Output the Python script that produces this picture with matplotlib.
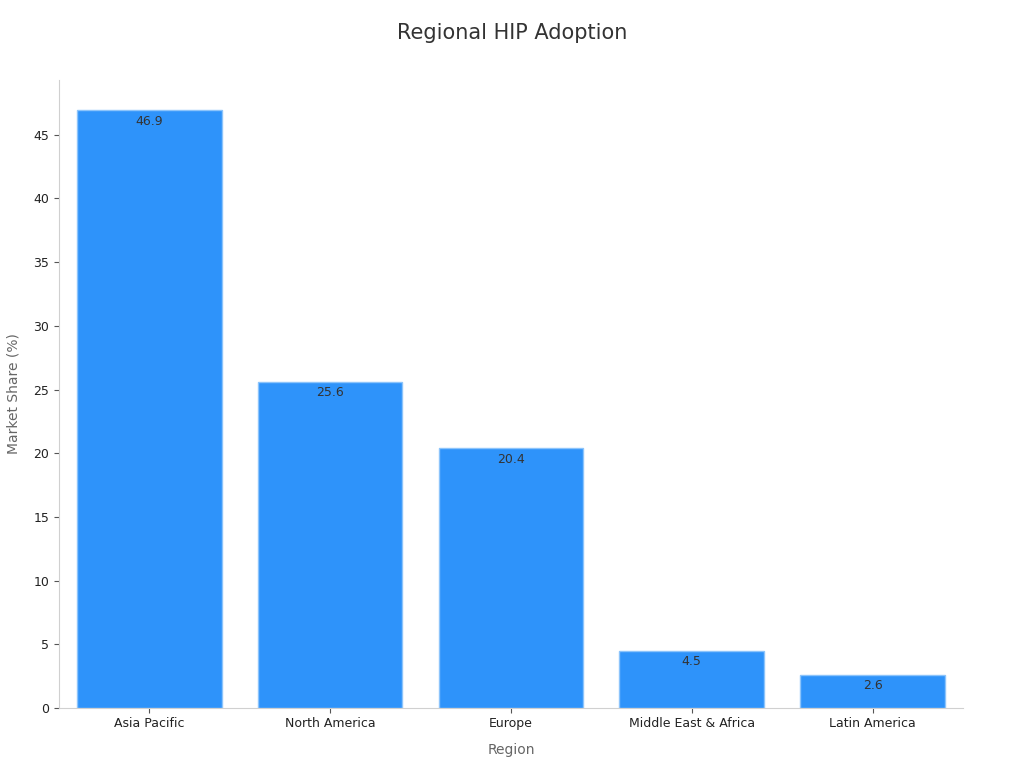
import matplotlib

matplotlib.use("Agg")
import matplotlib.pyplot as plt  # noqa: E402

regions = ["Asia Pacific", "North America", "Europe", "Middle East & Africa", "Latin America"]
shares = [46.9, 25.6, 20.4, 4.5, 2.6]

BAR_COLOR = "#2E93FA"
TEXT_DARK = "#333333"
TEXT_GRAY = "#666666"

fig = plt.figure(figsize=(10.24, 7.68), dpi=100)
ax = fig.add_axes([0.0576, 0.078, 0.8828, 0.818])

xs = list(range(len(regions)))
bars = ax.bar(xs, shares, width=0.8, color=BAR_COLOR, edgecolor="#8cc4fb", linewidth=1.0)
for bar, v in zip(bars, shares):
    ax.text(bar.get_x() + bar.get_width() / 2, v - 0.35, f"{v}",
            ha="center", va="top", fontsize=9, color=TEXT_DARK)

ax.set_xlim(-0.5, 4.5)
ax.set_ylim(0, 49.3)
ax.set_xticks(xs)
ax.set_xticklabels(regions, fontsize=9, color="#222222")
ax.set_yticks(range(0, 50, 5))
ax.tick_params(axis="y", labelsize=9, labelcolor="#222222", color="#555555", length=3.5)
ax.tick_params(axis="x", color="#555555", length=3.5, pad=3)

for side in ("top", "right"):
    ax.spines[side].set_visible(False)
for side in ("left", "bottom"):
    ax.spines[side].set_color("#d0d0d0")
    ax.spines[side].set_linewidth(0.8)

ax.set_xlabel("Region", fontsize=10, color=TEXT_GRAY, labelpad=9)
ax.set_ylabel("Market Share (%)", fontsize=10, color=TEXT_GRAY, labelpad=9)
fig.suptitle("Regional HIP Adoption", fontsize=15, color=TEXT_DARK, y=0.97)

fig.savefig("out.png", dpi=100)
plt.close(fig)
